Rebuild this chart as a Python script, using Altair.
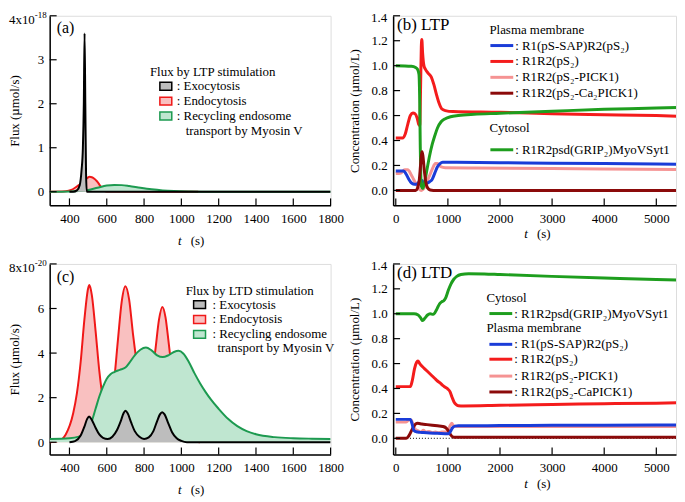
import altair as alt
import pandas as pd

FONT = "Liberation Serif"

# ---------------- (a) LTP flux (x10^-18 umol/s) ----------------
a_exo_t = [400, 420, 440, 455, 465, 472, 477, 481, 485, 489, 493, 520, 1800]
a_exo_v = [0, 0, 0.03, 0.15, 0.5, 1.0, 2.0, 3.6, 2.0, 0.4, 0, 0, 0]
a_endo_t = [294, 380, 410, 430, 450, 465, 480, 495, 508, 520, 535, 545, 558, 570, 585, 600, 1090]
a_endo_v = [0, 0.01, 0.04, 0.09, 0.15, 0.2, 0.26, 0.31, 0.34, 0.33, 0.29, 0.25, 0.18, 0.1, 0.03, 0.005, 0]
a_rec_t = [294, 400, 450, 500, 550, 600, 640, 680, 720, 780, 840, 900, 960, 1050, 1150, 1800]
a_rec_v = [0, 0.005, 0.015, 0.04, 0.09, 0.14, 0.155, 0.15, 0.13, 0.09, 0.055, 0.03, 0.015, 0.005, 0, 0]

# ---------------- (c) LTD flux (x10^-20 umol/s) ----------------
c_exo_t = [400, 430, 460, 480, 495, 505, 520, 540, 560, 580, 605, 630, 655, 675, 690, 700, 712, 730,
           750, 775, 800, 825, 850, 870, 885, 897, 910, 930, 950, 975, 1000, 1030, 1800]
c_exo_v = [0, 0.05, 0.3, 0.7, 1.05, 1.16, 1.0, 0.65, 0.35, 0.2, 0.15, 0.25, 0.55, 0.95, 1.3, 1.41, 1.3, 0.9,
           0.5, 0.25, 0.15, 0.22, 0.5, 0.95, 1.25, 1.35, 1.25, 0.85, 0.45, 0.18, 0.06, 0, 0]
c_endo_t = [294, 340, 380, 420, 440, 460, 480, 500, 507, 520, 540, 560, 580, 600, 620, 640, 660, 680, 700,
            720, 740, 760, 780, 800, 820, 840, 860, 880, 898, 915, 930, 945, 960, 980, 1000, 1030, 1060, 1100]
c_endo_v = [0, 0.05, 0.35, 1.3, 2.2, 3.6, 5.5, 6.9, 7.05, 6.6, 5.0, 3.2, 1.9, 1.2, 1.4, 2.8, 4.6, 6.3, 7.0,
            6.4, 4.9, 3.6, 2.5, 2.0, 2.2, 2.9, 4.1, 5.5, 6.07, 5.6, 4.6, 3.5, 2.4, 1.3, 0.6, 0.2, 0.05, 0]
c_rec_t = [294, 400, 450, 480, 500, 520, 540, 560, 580, 600, 620, 640, 670, 700, 720, 750, 780, 810, 840,
           870, 900, 930, 960, 985, 1010, 1040, 1070, 1100, 1130, 1160, 1200, 1250, 1300, 1350, 1400, 1500,
           1600, 1700, 1800]
c_rec_v = [0.15, 0.18, 0.25, 0.35, 0.55, 0.95, 1.5, 2.05, 2.5, 2.85, 3.05, 3.15, 3.25, 3.35, 3.55, 3.9, 4.15,
           4.25, 4.12, 3.9, 3.82, 3.9, 4.05, 4.1, 3.98, 3.6, 3.1, 2.65, 2.25, 1.9, 1.5, 1.05, 0.72, 0.5, 0.36,
           0.23, 0.18, 0.16, 0.15]

# ---------------- (b) LTP concentrations (umol/L) ----------------
b_blue_t = [0, 150, 200, 250, 300, 350, 400, 440, 470, 500, 540, 600, 650, 700, 750, 800, 850, 900, 1000,
            2000, 3000, 4000, 5000, 5400]
b_blue_v = [0.155, 0.155, 0.13, 0.09, 0.06, 0.05, 0.05, 0.065, 0.085, 0.08, 0.06, 0.06, 0.07, 0.09, 0.14,
            0.19, 0.215, 0.225, 0.225, 0.222, 0.218, 0.215, 0.212, 0.21]
b_red_t = [0, 130, 180, 230, 280, 330, 370, 410, 440, 460, 475, 490, 500, 515, 540, 570, 620, 680, 730, 780,
           830, 880, 950, 1100, 2000, 3000, 4000, 5000, 5400]
b_red_v = [0.42, 0.42, 0.45, 0.53, 0.6, 0.62, 0.615, 0.58, 0.53, 0.52, 0.8, 1.15, 1.21, 1.1, 1.0, 0.97,
           0.94, 0.91, 0.85, 0.77, 0.7, 0.655, 0.64, 0.632, 0.626, 0.615, 0.607, 0.6, 0.595]
b_pink_t = [0, 100, 170, 230, 290, 340, 400, 450, 490, 530, 580, 640, 700, 760, 800, 860, 950, 1500, 3000,
            4000, 5400]
b_pink_v = [0.135, 0.14, 0.165, 0.165, 0.13, 0.09, 0.045, 0.01, 0.0, 0.01, 0.05, 0.11, 0.17, 0.215, 0.215,
            0.19, 0.182, 0.18, 0.175, 0.172, 0.168]
b_dred_t = [0, 380, 420, 450, 475, 495, 505, 520, 545, 575, 610, 660, 720, 5400]
b_dred_v = [0, 0, 0.02, 0.08, 0.2, 0.29, 0.31, 0.28, 0.17, 0.07, 0.02, 0.003, 0, 0]
b_green_t = [0, 300, 380, 420, 445, 460, 470, 480, 495, 520, 550, 600, 650, 700, 750, 800, 870, 950, 1050,
             1200, 1500, 2000, 2500, 3000, 4000, 5000, 5400]
b_green_v = [1.0, 0.995, 0.985, 0.97, 0.93, 0.7, 0.35, 0.12, 0.03, 0.015, 0.06, 0.17, 0.28, 0.37, 0.44,
             0.5, 0.55, 0.575, 0.59, 0.6, 0.61, 0.618, 0.627, 0.635, 0.65, 0.66, 0.665]

# ---------------- (d) LTD concentrations (umol/L) ----------------
d_green_t = [0, 350, 430, 480, 515, 560, 610, 660, 720, 780, 840, 880, 920, 960, 1010, 1060, 1110, 1170,
             1250, 1400, 1700, 2000, 3000, 4000, 5000, 5400]
d_green_v = [1.0, 1.0, 0.99, 0.965, 0.945, 0.965, 0.99, 1.0, 0.995, 1.03, 1.08, 1.095, 1.105, 1.13, 1.19,
             1.24, 1.275, 1.3, 1.315, 1.322, 1.32, 1.315, 1.3, 1.287, 1.275, 1.27]
d_red_t = [0, 280, 320, 360, 400, 425, 460, 500, 550, 600, 650, 700, 750, 800, 850, 900, 950, 1000, 1040,
           1080, 1120, 1160, 1200, 1300, 2000, 3000, 4000, 5000, 5400]
d_red_v = [0.415, 0.415, 0.47, 0.56, 0.61, 0.62, 0.6, 0.58, 0.56, 0.54, 0.52, 0.5, 0.48, 0.46, 0.445, 0.425,
           0.41, 0.395, 0.375, 0.33, 0.29, 0.27, 0.262, 0.26, 0.265, 0.272, 0.278, 0.282, 0.285]
d_blue_t = [0, 280, 310, 340, 370, 420, 500, 650, 800, 950, 1010, 1050, 1090, 1140, 1200, 2000, 3000, 4000,
            5000, 5400]
d_blue_v = [0.152, 0.152, 0.12, 0.07, 0.055, 0.05, 0.047, 0.042, 0.04, 0.037, 0.036, 0.055, 0.085, 0.098,
            0.1, 0.102, 0.104, 0.105, 0.106, 0.106]
d_pink_t = [0, 200, 260, 300, 340, 380, 430, 480, 530, 580, 640, 700, 760, 820, 880, 950, 1000, 1040, 1075,
            1110, 1200, 3000, 5400]
d_pink_v = [0.13, 0.13, 0.15, 0.145, 0.1, 0.07, 0.06, 0.05, 0.065, 0.05, 0.055, 0.045, 0.05, 0.045, 0.05,
            0.05, 0.06, 0.1, 0.12, 0.1, 0.095, 0.095, 0.095]
d_dred_t = [0, 200, 250, 300, 340, 380, 420, 500, 600, 700, 800, 900, 960, 1010, 1050, 1090, 1150, 5400]
d_dred_v = [0.0, 0.0, 0.02, 0.06, 0.09, 0.115, 0.12, 0.115, 0.11, 0.105, 0.1, 0.095, 0.085, 0.06, 0.03,
            0.012, 0.008, 0.008]

# ---------------- axes ----------------
flux_x_ticks = [400, 600, 800, 1000, 1200, 1400, 1600, 1800]
conc_x_ticks = [0, 1000, 2000, 3000, 4000, 5000]
a_y_ticks = [0, 1, 2, 3, 4]
c_y_ticks = [0, 2, 4, 6, 8]
conc_y_ticks = [0.0, 0.2, 0.4, 0.6, 0.8, 1.0, 1.2, 1.4]
a_top_label = ("4x10", "-18")
c_top_label = ("8x10", "-20")
conc_top_label = "1.4"

BLUE, RED, PINK, DRED, GREEN = "#1a3cd8", "#f41c1c", "#f59393", "#8b0a0a", "#1e9e1e"
GRAY_F, PINK_F, GREEN_F = "#bdbdbd", "#f9c0c0", "#bfe6d0"
RED_S, GREEN_S = "#f01818", "#1d9a50"

ONE = pd.DataFrame({"d": [0]})


def frame(t, v):
    return pd.DataFrame({"t": t, "v": v})


def make_xy(xdom, ydom, xticks, yticks, ytitle, H, yfmt="d", title_x=-39):
    xaxis = alt.Axis(values=xticks, ticks=False, tickSize=0, labelPadding=7, labelFont=FONT, format="d",
                     labelFontSize=13, labelColor="black", domainColor="black", domainWidth=1.5,
                     grid=False, title=None, labelFlush=False)
    # the top tick label is drawn as text marks so it can sit a little lower, as in the figure
    yaxis = alt.Axis(values=yticks[:-1], ticks=False, tickSize=0, labelFont=FONT, labelFontSize=13,
                     labelPadding=6, labelColor="black", domainColor="black", domainWidth=1.5, grid=False,
                     title=ytitle, titleFont=FONT, titleFontSize=13, titleFontWeight="normal",
                     titleColor="black", titleX=title_x, titleY=H / 2, titleAngle=270, titleAlign="center",
                     titleBaseline="middle", format=yfmt)
    X = alt.X("t:Q", scale=alt.Scale(domain=xdom, nice=False, zero=False), axis=xaxis)
    Y = alt.Y("v:Q", scale=alt.Scale(domain=ydom, nice=False, zero=False), axis=yaxis)
    return X, Y


def tick_layers(X, Y, xticks, yticks, H):
    xt = alt.Chart(pd.DataFrame({"t": xticks})).mark_rule(color="black", strokeWidth=1.2).encode(
        x=X, y=alt.value(H), y2=alt.value(H - 7))
    yt = alt.Chart(pd.DataFrame({"v": yticks})).mark_rule(color="black", strokeWidth=1.2).encode(
        y=Y, x=alt.value(0), x2=alt.value(7))
    return [xt, yt]


def txt(x, y, s, size=13, style="normal", align="left"):
    return alt.Chart(ONE).mark_text(text=s, font=FONT, fontSize=size, fontStyle=style, align=align,
                                    baseline="middle", color="black").encode(x=alt.value(x), y=alt.value(y))


def sci_label(parts):
    base, exp = parts
    return [txt(-15, 4, base, 13, align="right"), txt(-15, -1, exp, 9)]


def swatch(x0, x1, yc, fill, stroke):
    return alt.Chart(ONE).mark_rect(fill=fill, stroke=stroke, strokeWidth=1.5).encode(
        x=alt.value(x0), x2=alt.value(x1), y=alt.value(yc - 4), y2=alt.value(yc + 4))


def lswatch(x0, x1, yc, color):
    return alt.Chart(ONE).mark_rule(color=color, strokeWidth=3).encode(
        x=alt.value(x0), x2=alt.value(x1), y=alt.value(yc))


def area(df, X, Y, fill):
    return alt.Chart(df).mark_area(color=fill, opacity=1, interpolate="monotone", clip=True).encode(
        x=X, y=Y, y2=alt.datum(0))


def line(df, X, Y, color, w=2.0):
    return alt.Chart(df).mark_line(color=color, strokeWidth=w, interpolate="monotone", clip=True).encode(
        x=X, y=Y)


def xtitle(cx, y):
    return [txt(cx, y, "t", 13, "italic", "center"), txt(cx + 11, y, "(s)", 13)]


WL, WR = 283, 285
HT, HB = 191, 192

# ---------- panel (a) ----------
Xa, Ya = make_xy([294, 1800], [-0.31, 4], flux_x_ticks, a_y_ticks, "Flux  (µmol/s)", HT, title_x=-35)
pa_layers = [
    area(frame(a_endo_t, a_endo_v), Xa, Ya, PINK_F),
    line(frame(a_endo_t, a_endo_v), Xa, Ya, RED_S),
    area(frame(a_rec_t, a_rec_v), Xa, Ya, GREEN_F),
    line(frame(a_rec_t, a_rec_v), Xa, Ya, GREEN_S),
    area(frame(a_exo_t, a_exo_v), Xa, Ya, GRAY_F),
    line(frame(a_exo_t, a_exo_v), Xa, Ya, "black"),
] + tick_layers(Xa, Ya, flux_x_ticks, a_y_ticks, HT) + sci_label(a_top_label) + [
    txt(7, 12, "(a)", 16),
    txt(101, 57, "Flux by LTP stimulation"),
    swatch(111, 123, 71, GRAY_F, "black"), txt(128, 71, ": Exocytosis"),
    swatch(111, 123, 86, PINK_F, RED_S), txt(128, 86, ": Endocytosis"),
    swatch(111, 123, 101, GREEN_F, GREEN_S), txt(128, 101, ": Recycling endosome"),
    txt(137, 116, "transport by Myosin V"),
] + xtitle(131, HT + 36)
pa = alt.layer(*pa_layers).properties(width=WL, height=HT)

# ---------- panel (c) ----------
Xc, Yc = make_xy([294, 1800], [-0.55, 8], flux_x_ticks, c_y_ticks, "Flux  (µmol/s)", HB, title_x=-35)
pc_layers = [
    area(frame(c_endo_t, c_endo_v), Xc, Yc, PINK_F),
    line(frame(c_endo_t, c_endo_v), Xc, Yc, RED_S),
    area(frame(c_rec_t, c_rec_v), Xc, Yc, GREEN_F),
    line(frame(c_rec_t, c_rec_v), Xc, Yc, GREEN_S),
    area(frame(c_exo_t, c_exo_v), Xc, Yc, GRAY_F),
    line(frame(c_exo_t, c_exo_v), Xc, Yc, "black"),
] + tick_layers(Xc, Yc, flux_x_ticks, c_y_ticks, HB) + sci_label(c_top_label) + [
    txt(7, 13, "(c)", 16),
    txt(137, 27, "Flux by LTD stimulation"),
    swatch(145, 157, 41, GRAY_F, "black"), txt(164, 41, ": Exocytosis"),
    swatch(145, 157, 56, PINK_F, RED_S), txt(164, 56, ": Endocytosis"),
    swatch(145, 157, 71, GREEN_F, GREEN_S), txt(164, 71, ": Recycling endosome"),
    txt(169, 85, "transport by Myosin V"),
] + xtitle(131, HB + 36)
pc = alt.layer(*pc_layers).properties(width=WL, height=HB)

# ---------- panel (b) ----------
Xb, Yb = make_xy([-51, 5378], [-0.12, 1.4], conc_x_ticks, conc_y_ticks, "Concentration  (µmol/L)", HT,
                 yfmt=".1f")
pb_layers = [
    line(frame(b_pink_t, b_pink_v), Xb, Yb, PINK, 3),
    line(frame(b_blue_t, b_blue_v), Xb, Yb, BLUE, 3),
    line(frame(b_red_t, b_red_v), Xb, Yb, RED, 3),
    line(frame(b_green_t, b_green_v), Xb, Yb, GREEN, 3),
    line(frame(b_dred_t, b_dred_v), Xb, Yb, DRED, 3),
] + tick_layers(Xb, Yb, conc_x_ticks, conc_y_ticks, HT) + [
    txt(-6, 2, conc_top_label, 13, align="right"),
    txt(4, 9, "(b) LTP", 17),
    txt(97, 14, "Plasma membrane"),
    lswatch(98, 121, 30, BLUE), txt(123, 30, ": R1(pS-SAP)R2(pS₂)"),
    lswatch(98, 121, 46, RED), txt(123, 46, ": R1R2(pS₂)"),
    lswatch(98, 121, 62, PINK), txt(123, 62, ": R1R2(pS₂-PICK1)"),
    lswatch(98, 121, 78, DRED), txt(123, 78, ": R1R2(pS₂-Ca₂PICK1)"),
    txt(97, 113, "Cytosol"),
    lswatch(98, 121, 135, GREEN), txt(123, 135, ": R1R2psd(GRIP₂)MyoVSyt1"),
] + xtitle(134, HT + 29)
pb = alt.layer(*pb_layers).properties(width=WR, height=HT)

# ---------- panel (d) ----------
Xd, Yd = make_xy([-51, 5378], [-0.13, 1.4], conc_x_ticks, conc_y_ticks, "Concentration  (µmol/L)", HB,
                 yfmt=".1f")
zero_line = alt.Chart(pd.DataFrame({"v": [0.0]})).mark_rule(color="black", strokeDash=[1, 2],
                                                            strokeWidth=1).encode(y=Yd)
pd_layers = [
    zero_line,
    line(frame(d_pink_t, d_pink_v), Xd, Yd, PINK, 3),
    line(frame(d_dred_t, d_dred_v), Xd, Yd, DRED, 3),
    line(frame(d_blue_t, d_blue_v), Xd, Yd, BLUE, 3),
    line(frame(d_red_t, d_red_v), Xd, Yd, RED, 3),
    line(frame(d_green_t, d_green_v), Xd, Yd, GREEN, 3),
] + tick_layers(Xd, Yd, conc_x_ticks, conc_y_ticks, HB) + [
    txt(-6, 2, conc_top_label, 13, align="right"),
    txt(4, 9, "(d) LTD", 17),
    txt(94, 34, "Cytosol"),
    lswatch(97, 120, 50, GREEN), txt(122, 50, ": R1R2psd(GRIP₂)MyoVSyt1"),
    txt(94, 65, "Plasma membrane"),
    lswatch(97, 120, 81, BLUE), txt(122, 81, ": R1(pS-SAP)R2(pS₂)"),
    lswatch(97, 120, 96, RED), txt(122, 96, ": R1R2(pS₂)"),
    lswatch(97, 120, 113, PINK), txt(122, 113, ": R1R2(pS₂-PICK1)"),
    lswatch(97, 120, 129, DRED), txt(122, 129, ": R1R2(pS₂-CaPICK1)"),
] + xtitle(134, HB + 30)
pdd = alt.layer(*pd_layers).properties(width=WR, height=HB)

chart = alt.concat(pa, pb, pc, pdd, columns=2, spacing={"row": 59, "column": 63},
                   bounds="flush").properties(padding=0)
chart = chart.configure_view(stroke=None).configure(font=FONT, background="white").configure_axis(
    labelFont=FONT, titleFont=FONT)

chart.save("out.html", embed_options={"renderer": "svg", "actions": False})
